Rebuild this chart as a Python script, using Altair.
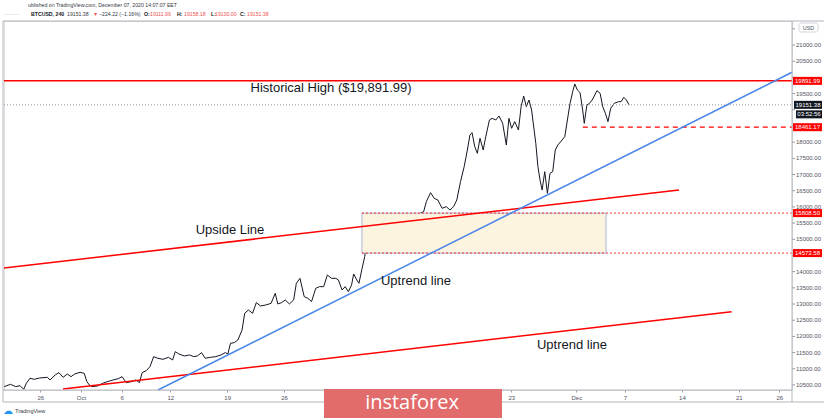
import altair as alt
import pandas as pd

# ---------------- data ----------------
# BTCUSD 4h close, x = days since 2020-10-01
days = [-9.46, -8.68, -8.03, -7.51, -7.06, -6.73, -6.28, -5.76, -5.11, -4.14,
        -3.82, -3.17, -2.72, -2.20, -1.68, -1.23, -0.77, -0.12, 0.40, 0.72,
        1.04, 1.37, 2.02, 2.66, 3.64, 4.61, 5.06, 5.58, 6.23, 6.75,
        7.20, 7.53, 8.04, 8.50, 8.95, 9.47, 10.12, 10.77, 11.28, 11.61,
        12.06, 12.71, 13.36, 13.88, 14.33, 14.85, 15.30, 15.95, 16.60, 17.25,
        17.77, 18.09, 18.41, 18.87, 19.32, 19.84, 20.16, 20.62, 21.13, 21.59,
        22.11, 22.76, 23.41, 23.92, 24.24, 24.70, 25.15, 25.67, 26.19, 26.52,
        26.97, 27.49, 27.94, 28.39, 28.91, 29.37, 29.89, 30.34, 30.86, 31.38,
        31.70, 32.15, 32.54, 32.93, 33.32, 33.58, 33.97, 34.23, 34.62, 34.94,
        35.27, 35.59, 35.91, 36.17, 36.56, 37.02, 37.34, 37.66, 37.99, 38.31,
        38.77, 39.09, 39.41, 39.61, 39.93, 40.45, 40.91, 41.36, 41.75, 42.20,
        42.53, 43.05, 43.50, 43.95, 44.47, 44.99, 45.44, 45.89, 46.28, 46.74,
        47.19, 47.58, 47.90, 48.16, 48.49, 48.81, 49.14, 49.53, 49.85, 50.30,
        50.63, 51.08, 51.47, 51.93, 52.38, 52.70, 53.03, 53.42, 53.87, 54.20,
        54.52, 54.84, 55.17, 55.49, 56.01, 56.27, 56.53, 56.79, 57.11, 57.44,
        57.76, 58.09, 58.41, 58.73, 59.25, 59.58, 59.90, 60.23, 60.55, 60.81,
        61.13, 61.46, 61.78, 61.98, 62.30, 62.63, 62.95, 63.28, 63.54, 63.93,
        64.25, 64.58, 64.90, 65.23, 65.68, 66.20, 66.52, 66.85, 67.17, 67.49]
prices = [10449, 10521, 10449, 10480, 10366, 10552, 10706, 10675, 10716, 10737,
          10655, 10809, 10881, 10737, 10840, 10757, 10840, 10891, 10860, 10603,
          10500, 10449, 10469, 10552, 10634, 10696, 10757, 10572, 10603, 10655,
          10572, 10881, 10943, 11066, 11375, 11324, 11293, 11355, 11272, 11530,
          11457, 11396, 11427, 11375, 11396, 11499, 11324, 11355, 11375, 11427,
          11499, 11457, 11787, 11808, 11890, 12199, 12714, 12816, 12714, 13043,
          12940, 12971, 13022, 13331, 13002, 13043, 13125, 13002, 13125, 13640,
          13794, 13228, 13177, 13074, 13485, 13537, 13537, 13897, 13794, 13794,
          13743, 13434, 13537, 13382, 13588, 13928, 13743, 13640, 14103, 14463,
          15081, 15441, 15802, 15544, 15596, 15493, 15544, 14566, 15184, 15441,
          15441, 15184, 15750, 15030, 15390, 15287, 15441, 15596, 15802, 15853,
          16162, 16440, 16265, 16213, 15956, 16007, 15904, 16007, 16213, 16779,
          17243, 17757, 18221, 18293, 17860, 17654, 18118, 17757, 18169, 18684,
          18735, 18684, 18807, 18581, 17912, 18735, 18427, 18632, 18375, 19096,
          19425, 19096, 19301, 18993, 17963, 17243, 16831, 16522, 17088, 16419,
          17037, 17088, 17757, 17912, 18066, 18169, 18684, 19199, 19559, 19796,
          19610, 19528, 18993, 18581, 19147, 19199, 19301, 19456, 19590, 19507,
          19096, 18890, 18632, 19044, 19199, 19250, 19250, 19384, 19301, 19151]

# visible time-axis ticks (Nov 2/9/16 are hidden under the instaforex logo)
x_tick_days = [-5, 0, 5, 11, 18, 25, 53, 61, 67, 74, 81, 86]
x_tick_labels = ['26', 'Oct', '6', '12', '19', '26', '23', 'Dec', '7', '14', '21', '26']
# price-axis ticks, and the labels that are not covered by price tags
y_tick_values = [10500, 11000, 11500, 12000, 12500, 13000, 13500, 14000, 14500,
                 15000, 15500, 16000, 16500, 17000, 17500, 18000, 18500, 19000,
                 19500, 20000, 20500, 21000, 21500]
y_label_values = [10500, 11000, 11500, 12000, 12500, 13000, 13500, 14000,
                  15000, 15500, 16000, 16500, 17000, 17500, 18000,
                  19500, 20500, 21000]

hist_high = 19891.99
last_price = 19151.38
countdown = "03:52:56"
support_level = 18461.17
support_start = 61.8
zone_top = 15808.50
zone_bottom = 14573.58
zone_start = 34.6
zone_end = 64.66

trend_start_day = [-9.48, -2.22, 9.48]
trend_start_price = [14113, 10376, 10345]
trend_end_day = [73.65, 80.12, 87.56]
trend_end_price = [16522, 12763, 20157]
trend_colors = ['#ff0000', '#ff0000', '#4a86e8']

annot_texts = ['Historical High ($19,891.99)', 'Upside Line', 'Uptrend line', 'Uptrend line']
annot_days = [30.8, 18.35, 41.26, 60.47]
annot_prices = [19672, 15287, 13712, 11735]

red_tags = [19891.99, 18461.17, 15808.50, 14573.58]

x_domain = [-9.48, 87.56]
y_domain = [10345, 21741]

FONT = "Liberation Sans"
INK = "#131722"
GRID = "#b2b5be"
RED = "#ff0000"
TVRED = "#ef5350"
AXTXT = "#50535e"

# ---------------- helpers ----------------
one = pd.DataFrame({"a": [0]})


def txt(s, x, y, size, color, align="left", weight="normal", font=FONT):
    return alt.Chart(one).mark_text(
        align=align, baseline="middle", fontSize=size, color=color,
        fontWeight=weight, font=font
    ).encode(x=alt.value(x), y=alt.value(y), text=alt.value(s))


def prule(x1, y1, x2, y2, color, width=1.0):
    return alt.Chart(one).mark_rule(color=color, strokeWidth=width).encode(
        x=alt.value(x1), y=alt.value(y1), x2=alt.value(x2), y2=alt.value(y2))


label_expr = "[" + ",".join("'%s'" % s for s in x_tick_labels) + "][indexof([" + \
    ",".join(str(d) for d in x_tick_days) + "], datum.value)]"

X = alt.X("day:Q", title=None,
          scale=alt.Scale(domain=x_domain, nice=False, zero=False),
          axis=alt.Axis(values=x_tick_days, labelExpr=label_expr, domain=False, grid=False,
                        labelFontSize=6, labelColor=AXTXT, tickSize=2, tickColor="#9598a1",
                        labelPadding=2, labelFlush=False, labelOverlap=False, zindex=0,
                        labelFont=FONT))
Y = alt.Y("price:Q", title=None,
          scale=alt.Scale(domain=y_domain, nice=False, zero=False), axis=None)

price_df = pd.DataFrame({"day": days, "price": prices})
price_line = alt.Chart(price_df).mark_line(color=INK, strokeWidth=1).encode(x=X, y=Y)

# price axis drawn as marks on the right side
ytick_df = pd.DataFrame({"price": y_tick_values})
ytick_marks = alt.Chart(ytick_df).mark_rule(color="#9598a1", strokeWidth=1).encode(
    x=alt.value(788), x2=alt.value(791), y=alt.Y("price:Q", title=None))
ylab_df = pd.DataFrame({"price": y_label_values,
                        "lab": ["%.2f" % v for v in y_label_values]})
ylab_marks = alt.Chart(ylab_df).mark_text(align="left", baseline="middle", fontSize=6,
                                          color=AXTXT, font=FONT).encode(
    x=alt.value(792), y=alt.Y("price:Q", title=None), text="lab:N")

zone_df = pd.DataFrame({"day": [zone_start], "day2": [zone_end],
                        "price": [zone_bottom], "price2": [zone_top]})
zone = alt.Chart(zone_df).mark_rect(fill="#fdf4e0", stroke="#9aa3d6", strokeWidth=0.8).encode(
    x=alt.X("day:Q", title=None), x2="day2", y=alt.Y("price:Q", title=None), y2="price2")

hl_df = pd.DataFrame({
    "day": [x_domain[0], x_domain[0], support_start, zone_start, zone_start],
    "day2": [x_domain[1], x_domain[1], x_domain[1], x_domain[1], x_domain[1]],
    "price": [hist_high, last_price, support_level, zone_top, zone_bottom],
    "kind": ["high", "last", "support", "zone", "zone"],
})
high_line = alt.Chart(hl_df[hl_df.kind == "high"]).mark_rule(color=RED, strokeWidth=1.5).encode(
    x=alt.X("day:Q", title=None), x2="day2", y=alt.Y("price:Q", title=None))
last_line = alt.Chart(hl_df[hl_df.kind == "last"]).mark_rule(
    color="#9598a1", strokeWidth=1, strokeDash=[1, 2]).encode(
    x=alt.X("day:Q", title=None), x2="day2", y=alt.Y("price:Q", title=None))
support_line = alt.Chart(hl_df[hl_df.kind == "support"]).mark_rule(
    color=RED, strokeWidth=1.3, strokeDash=[5, 4]).encode(
    x=alt.X("day:Q", title=None), x2="day2", y=alt.Y("price:Q", title=None))
zone_lines = alt.Chart(hl_df[hl_df.kind == "zone"]).mark_rule(
    color=RED, strokeWidth=0.8, strokeDash=[2, 2]).encode(
    x=alt.X("day:Q", title=None), x2="day2", y=alt.Y("price:Q", title=None))

trend_df = pd.DataFrame({"day": trend_start_day, "price": trend_start_price,
                         "day2": trend_end_day, "price2": trend_end_price,
                         "col": trend_colors})
trends = alt.Chart(trend_df).mark_rule(strokeWidth=1.5).encode(
    x=alt.X("day:Q", title=None), y=alt.Y("price:Q", title=None), x2="day2", y2="price2",
    color=alt.Color("col:N", scale=None))

annot_df = pd.DataFrame({"day": annot_days, "price": annot_prices, "t": annot_texts})
annots = alt.Chart(annot_df).mark_text(fontSize=13, color=INK, font=FONT).encode(
    x=alt.X("day:Q", title=None), y=alt.Y("price:Q", title=None), text="t:N")

# right-axis price tags
tag_df = pd.DataFrame({"price": red_tags, "lab": ["%.2f" % v for v in red_tags]})
tag_box = alt.Chart(tag_df).mark_rect(color=RED, yOffset=-4, y2Offset=4).encode(
    x=alt.value(789), x2=alt.value(818), y=alt.Y("price:Q", title=None), y2="price")
tag_txt = alt.Chart(tag_df).mark_text(color="white", fontSize=6, font=FONT).encode(
    x=alt.value(803.5), y=alt.Y("price:Q", title=None), text="lab:N")

last_df = pd.DataFrame({"price": [last_price], "lab": ["%.2f" % last_price], "cd": [countdown]})
last_box = alt.Chart(last_df).mark_rect(color=INK, yOffset=-4, y2Offset=4).encode(
    x=alt.value(790), x2=alt.value(818), y=alt.Y("price:Q", title=None), y2="price")
last_txt = alt.Chart(last_df).mark_text(color="white", fontSize=6, font=FONT).encode(
    x=alt.value(804), y=alt.Y("price:Q", title=None), text="lab:N")
cd_box = alt.Chart(last_df).mark_rect(color=INK, yOffset=5.5, y2Offset=13.5).encode(
    x=alt.value(792), x2=alt.value(818), y=alt.Y("price:Q", title=None), y2="price")
cd_txt = alt.Chart(last_df).mark_text(color="white", fontSize=6, font=FONT, dy=9.5).encode(
    x=alt.value(805), y=alt.Y("price:Q", title=None), text="cd:N")

# frame lines (plot origin is at page x=4, y=21)
frame = [
    prule(-1, 0, 820, 0, GRID),
    prule(-1, 0, -1, 381, GRID),
    prule(-1, 381, 820, 381, GRID),
    prule(-1, 369, 788, 369, GRID),
    prule(788, 0, 788, 381, GRID),
]

usd_box = alt.Chart(one).mark_rect(fill="white", stroke="#c8cad0", strokeWidth=0.8,
                                   cornerRadius=2).encode(
    x=alt.value(795), x2=alt.value(814), y=alt.value(2), y2=alt.value(11))
usd_txt = txt("USD", 804.5, 6.5, 5.5, AXTXT, align="center")

# header
hy1, hy2 = -16, -7
header = [
    txt("ublished on TradingView.com, December 07, 2020 14:07:07 EET", 24, hy1, 5.2, "#363a45"),
    txt("··········", -1, hy2, 5.2, "#9598a1"),
    txt("BTCUSD, 240", 27, hy2, 5.2, INK, weight="bold"),
    txt("19151.38", 63, hy2, 5.2, "#363a45"),
    txt("▼", 89, hy2, 5.2, TVRED),
    txt("−224.22 (−1.16%)", 95, hy2, 5.2, "#363a45"),
    txt("O:", 140, hy2, 5.2, INK, weight="bold"),
    txt("19111.99", 146, hy2, 5.2, TVRED),
    txt("H:", 173, hy2, 5.2, INK, weight="bold"),
    txt("19158.18", 180, hy2, 5.2, TVRED),
    txt("L:", 207, hy2, 5.2, INK, weight="bold"),
    txt("19100.00", 211, hy2, 5.2, TVRED),
    txt("C:", 236, hy2, 5.2, INK, weight="bold"),
    txt("19151.38", 243, hy2, 5.2, TVRED),
]

# footer
footer = [
    txt("☁", 4, 390, 10, "#2196f3", align="center", font="DejaVu Sans"),
    txt("TradingView", 11, 390, 5.5, "#363a45"),
]

logo_box = alt.Chart(one).mark_rect(color="#e26b6b").encode(
    x=alt.value(320), x2=alt.value(498), y=alt.value(368), y2=alt.value(397))
logo_txt = txt("instaforex", 408, 382, 20, "white", align="center", font="Open Sans")

layers = ([price_line, zone, last_line, high_line, support_line, zone_lines, trends,
           annots, ytick_marks, ylab_marks, tag_box, tag_txt, last_box, last_txt,
           cd_box, cd_txt]
          + frame + [usd_box, usd_txt] + header + footer + [logo_box, logo_txt])

chart = alt.layer(*layers).properties(
    width=788, height=369,
    autosize=alt.AutoSizeParams(type="none"),
    padding={"left": 4, "top": 21, "right": 33, "bottom": 30},
    background="white",
).configure_view(stroke=None).configure(font=FONT)

chart.save("out.html", embed_options={"renderer": "svg", "actions": False})
